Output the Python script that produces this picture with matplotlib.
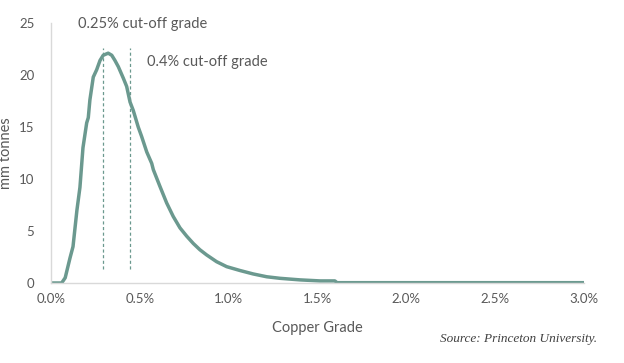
import matplotlib.pyplot as plt
from matplotlib.ticker import FuncFormatter

# copper grade (%) and tonnage (mm tonnes)
grade = [0.0, 0.06, 0.08, 0.107, 0.124, 0.146, 0.163, 0.18, 0.201, 0.21, 0.219,
         0.238, 0.257, 0.276, 0.294, 0.322, 0.342, 0.36, 0.379, 0.407, 0.426,
         0.445, 0.463, 0.491, 0.51, 0.539, 0.567, 0.576, 0.613, 0.651, 0.688,
         0.726, 0.764, 0.801, 0.838, 0.876, 0.932, 0.989, 1.064, 1.138, 1.214,
         1.289, 1.401, 1.514, 1.598, 1.61, 3.0]
tonnes = [0, 0, 0.5, 2.4, 3.5, 7.0, 9.2, 13.0, 15.4, 15.9, 17.6,
          19.8, 20.5, 21.4, 21.9, 22.1, 21.9, 21.4, 20.8, 19.7, 18.9,
          17.4, 16.6, 15.0, 14.1, 12.6, 11.5, 10.9, 9.3, 7.7, 6.4,
          5.3, 4.5, 3.8, 3.2, 2.7, 2.05, 1.57, 1.2, 0.87, 0.6,
          0.45, 0.3, 0.2, 0.2, 0.03, 0.03]

cutoffs = [0.294, 0.445]
cutoff_labels = ["0.25% cut-off grade", "0.4% cut-off grade"]
label_pos = [(0.152, 24.9), (0.54, 21.25)]

teal = "#6b998f"
grey = "#595959"

plt.rcParams['font.family'] = ['Lato', 'DejaVu Sans']

fig = plt.figure(figsize=(6.24, 3.63), dpi=100)
ax = fig.add_axes([0.0817, 0.2204, 0.8542, 0.7162])

ax.plot(grade, tonnes, color=teal, lw=2.5, solid_capstyle='butt')
for c in cutoffs:
    ax.plot([c, c], [1.3, 22.6], color=teal, lw=0.9, ls=(0, (2.5, 2)))
for (lx, ly), txt in zip(label_pos, cutoff_labels):
    ax.text(lx, ly, txt, fontsize=10.5, color=grey, va='center', ha='left')

ax.set_xlim(0, 3.0)
ax.set_ylim(0, 25)
ax.set_xticks([0, 0.5, 1.0, 1.5, 2.0, 2.5, 3.0])
ax.set_yticks([0, 5, 10, 15, 20, 25])
ax.xaxis.set_major_formatter(FuncFormatter(lambda v, p: f"{v:.1f}%"))
ax.tick_params(length=0, labelsize=9.5, colors=grey)
ax.tick_params(axis='y', pad=12)
ax.tick_params(axis='x', pad=7)

for s in ['top', 'right']:
    ax.spines[s].set_visible(False)
for s in ['left', 'bottom']:
    ax.spines[s].set_color('#d9d9d9')
    ax.spines[s].set_linewidth(1)

ax.set_ylabel("mm tonnes", fontsize=10.5, color=grey)
ax.yaxis.set_label_coords(-0.071, 0.5)
ax.set_xlabel("Copper Grade", fontsize=10.5, color=grey, labelpad=12)

fig.text(0.957, 0.066, "Source: Princeton University.", ha='right', va='center',
         fontsize=9.5, style='italic', family='Liberation Serif', color='#404040')

fig.savefig("out.png", dpi=100)
